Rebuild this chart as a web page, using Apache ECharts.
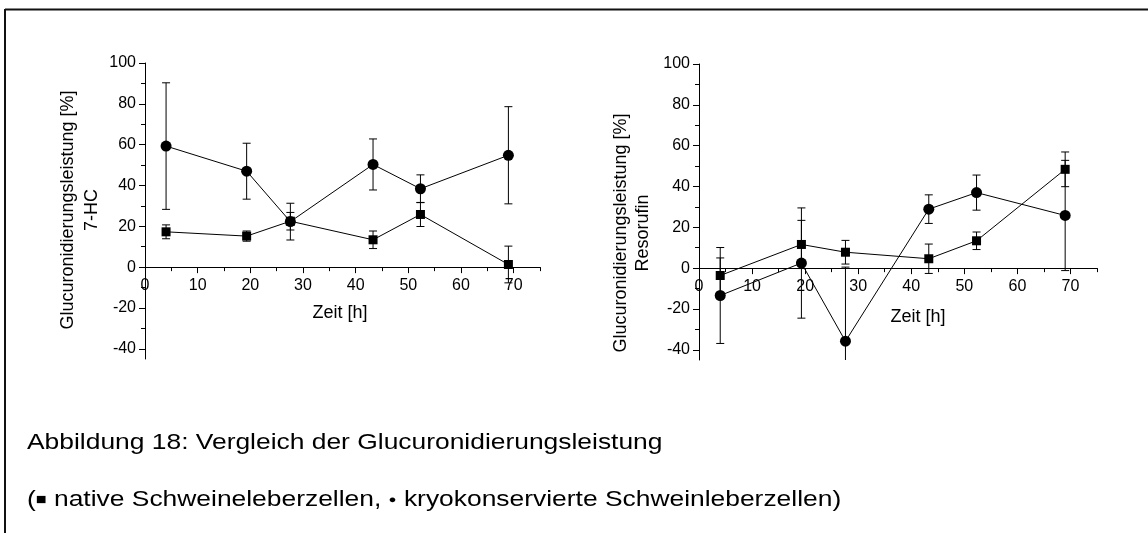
<!DOCTYPE html>
<html>
<head>
<meta charset="utf-8">
<script src="https://cdn.jsdelivr.net/npm/echarts@6/dist/echarts.min.js"></script>
<style>
  html, body { margin: 0; padding: 0; background: #fff; }
  #chart { width: 1148px; height: 533px; }
</style>
</head>
<body>
<div id="chart"></div>
<script>
// Sampling times [h]
const hours = [4, 19.3, 27.6, 43.3, 52.3, 69];

// 7-HC glucuronidation [%] (mean, standard deviation)
const hcNative = [17.3, 15.2, 22.5, 13.4, 25.8, 1.3];
const hcNativeErr = [3.4, 2.5, 4.3, 4.3, 5.9, 9];
const hcKryo = [59.3, 47, 22.3, 50.3, 38.4, 54.8];
const hcKryoErr = [31, 13.7, 9, 12.5, 6.8, 23.8];

// Resorufin glucuronidation [%] (mean, standard deviation)
const resNative = [-3.6, 11.6, 7.8, 4.6, 13.4, 48.4];
const resNativeErr = [8.6, 11.8, 5.8, 7.2, 4.3, 8.5];
const resKryo = [-13.4, 2.5, -35.8, 28.9, 37, 25.8];
const resKryoErr = [23.5, 27, 36.3, 7, 8.6, 27];

// Tick positions
const xMajorTicks = [0, 10, 20, 30, 40, 50, 60, 70];
const xMinorTicks = [5, 15, 25, 35, 45, 55, 65, 75];
const yMajorTicks = [-40, -20, 0, 20, 40, 60, 80, 100];
const yMinorTicks = [-30, -10, 10, 30, 50, 70, 90];

const FONT = '"Liberation Sans", Arial, Helvetica, sans-serif';
const INK = '#000';

// plot height in px and the value range of the y axes
const PLOT_H = 296, Y_MIN = -45, Y_MAX = 100;
// x labels sit just below the zero line, which lies above the plot's bottom edge
const zeroLift = PLOT_H * (0 - Y_MIN) / (Y_MAX - Y_MIN);

function pairs(vals) { return hours.map((h, i) => [h, vals[i]]); }
function triples(vals, errs) { return hours.map((h, i) => [h, vals[i], errs[i]]); }

// Vertical error bar with caps, clipped to the plot area
function errorBarItem(params, api) {
  const x = api.value(0), y = api.value(1), e = api.value(2);
  const cs = params.coordSys;
  const top = api.coord([x, y + e]);
  const bot = api.coord([x, y - e]);
  const yMin = cs.y, yMax = cs.y + cs.height;
  const clamp = v => Math.min(Math.max(v, yMin), yMax);
  const half = 4;
  const style = { stroke: INK, lineWidth: 1 };
  const children = [{
    type: 'line',
    shape: { x1: top[0], y1: clamp(top[1]), x2: top[0], y2: clamp(bot[1]) },
    style
  }];
  if (top[1] >= yMin) {
    children.push({ type: 'line', shape: { x1: top[0] - half, y1: top[1], x2: top[0] + half, y2: top[1] }, style });
  }
  if (bot[1] <= yMax) {
    children.push({ type: 'line', shape: { x1: bot[0] - half, y1: bot[1], x2: bot[0] + half, y2: bot[1] }, style });
  }
  return { type: 'group', children };
}

function xAxes(gridIndex) {
  return [
    {
      type: 'value', gridIndex, min: 0, max: 75, position: 'bottom',
      axisLine: { onZero: true, lineStyle: { color: INK, width: 1 } },
      axisTick: { customValues: xMajorTicks, length: 6, lineStyle: { color: INK } },
      axisLabel: {
        customValues: xMajorTicks, fontSize: 16, color: INK, fontFamily: FONT,
        margin: Math.round(11 - zeroLift)
      },
      splitLine: { show: false }
    },
    {
      type: 'value', gridIndex, min: 0, max: 75, position: 'bottom',
      axisLine: { show: false, onZero: true },
      axisTick: { customValues: xMinorTicks, length: 4, lineStyle: { color: INK } },
      axisLabel: { show: false },
      splitLine: { show: false }
    }
  ];
}

function yAxes(gridIndex) {
  return [
    {
      type: 'value', gridIndex, min: Y_MIN, max: Y_MAX, position: 'left',
      axisLine: { show: true, onZero: false, lineStyle: { color: INK, width: 1 } },
      axisTick: { customValues: yMajorTicks, length: 6, lineStyle: { color: INK } },
      axisLabel: { customValues: yMajorTicks, fontSize: 16, color: INK, fontFamily: FONT, margin: 9 },
      splitLine: { show: false }
    },
    {
      type: 'value', gridIndex, min: Y_MIN, max: Y_MAX, position: 'left',
      axisLine: { show: false, onZero: false },
      axisTick: { customValues: yMinorTicks, length: 4, lineStyle: { color: INK } },
      axisLabel: { show: false },
      splitLine: { show: false }
    }
  ];
}

function dataSeries(xi, yi, native, nativeErr, kryo, kryoErr) {
  const common = { xAxisIndex: xi, yAxisIndex: yi, animation: false };
  return [
    Object.assign({
      type: 'custom', renderItem: errorBarItem, data: triples(native, nativeErr),
      encode: { x: 0, y: 1 }, z: 2
    }, common),
    Object.assign({
      type: 'custom', renderItem: errorBarItem, data: triples(kryo, kryoErr),
      encode: { x: 0, y: 1 }, z: 2
    }, common),
    Object.assign({
      name: 'native Schweineleberzellen', type: 'line', data: pairs(native),
      symbol: 'rect', symbolSize: 9, showAllSymbol: true,
      itemStyle: { color: INK }, lineStyle: { color: INK, width: 1 }, z: 3
    }, common),
    Object.assign({
      name: 'kryokonservierte Schweinleberzellen', type: 'line', data: pairs(kryo),
      symbol: 'circle', symbolSize: 11, showAllSymbol: true,
      itemStyle: { color: INK }, lineStyle: { color: INK, width: 1 }, z: 3
    }, common)
  ];
}

const chart = echarts.init(document.getElementById('chart'), null, { renderer: 'canvas' });

const textStyle = (size) => ({ fontSize: size, fontFamily: FONT, fill: INK });

chart.setOption({
  animation: false,
  backgroundColor: '#fff',
  grid: [
    { left: 145, top: 63, width: 395, height: PLOT_H },
    { left: 699, top: 64, width: 398, height: PLOT_H }
  ],
  xAxis: [...xAxes(0), ...xAxes(1)],
  yAxis: [...yAxes(0), ...yAxes(1)],
  series: [
    ...dataSeries(0, 0, hcNative, hcNativeErr, hcKryo, hcKryoErr),
    ...dataSeries(2, 2, resNative, resNativeErr, resKryo, resKryoErr)
  ],
  graphic: [
    // frame
    { type: 'line', shape: { x1: 5, y1: 9.5, x2: 1148, y2: 9.5 }, style: { stroke: '#111', lineWidth: 2 } },
    { type: 'line', shape: { x1: 5, y1: 9, x2: 5, y2: 533 }, style: { stroke: '#111', lineWidth: 2 } },
    // y-axis titles
    {
      type: 'text', x: 80, y: 210, rotation: Math.PI / 2,
      style: Object.assign(textStyle(18), {
        text: 'Glucuronidierungsleistung [%]\n7-HC', align: 'center', verticalAlign: 'middle', lineHeight: 24
      })
    },
    {
      type: 'text', x: 632, y: 233, rotation: Math.PI / 2,
      style: Object.assign(textStyle(18), {
        text: 'Glucuronidierungsleistung [%]\nResorufin', align: 'center', verticalAlign: 'middle', lineHeight: 22
      })
    },
    // x-axis titles
    {
      type: 'text', x: 340, y: 313,
      style: Object.assign(textStyle(18), { text: 'Zeit [h]', align: 'center', verticalAlign: 'middle' })
    },
    {
      type: 'text', x: 918, y: 317,
      style: Object.assign(textStyle(18), { text: 'Zeit [h]', align: 'center', verticalAlign: 'middle' })
    },
    // caption
    {
      type: 'text', x: 27, y: 443, scaleX: 1.2,
      style: Object.assign(textStyle(22), {
        text: 'Abbildung 18: Vergleich der Glucuronidierungsleistung', align: 'left', verticalAlign: 'middle'
      })
    },
    {
      type: 'text', x: 27, y: 500, scaleX: 1.2,
      style: Object.assign(textStyle(22), {
        text: '({sq|■} native Schweineleberzellen, {dot|●} kryokonservierte Schweinleberzellen)',
        align: 'left', verticalAlign: 'middle',
        rich: {
          sq: { fontSize: 15, fontFamily: FONT, fill: INK },
          dot: { fontSize: 11, fontFamily: FONT, fill: INK }
        }
      })
    }
  ]
});
</script>
</body>
</html>
